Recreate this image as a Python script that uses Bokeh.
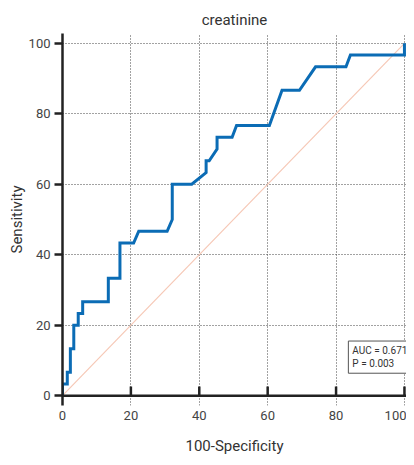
from bokeh.plotting import figure
from bokeh.models import Range1d, Span, Label, FixedTicker
from bokeh.embed import file_html
from bokeh.resources import INLINE

# ROC curve points (100-Specificity, Sensitivity)
fpr = [0, 0, 1.4, 1.4, 2.3, 2.3, 3.3, 3.3, 4.6, 4.6, 5.9, 5.9, 13.4, 13.4, 16.8, 16.8,
       20.8, 22.3, 30.6, 32.1, 32.1, 37.8, 42.0, 42.0, 42.9, 45.2, 45.2, 49.6, 50.9,
       60.5, 64.2, 69.3, 74.0, 82.9, 84.2, 100, 100]
tpr = [0, 3.33, 3.33, 6.67, 6.67, 13.33, 13.33, 20, 20, 23.33, 23.33, 26.67, 26.67, 33.33, 33.33, 43.33,
       43.33, 46.67, 46.67, 50, 60, 60, 63.33, 66.67, 66.67, 70, 73.33, 73.33, 76.67,
       76.67, 86.67, 86.67, 93.33, 93.33, 96.67, 96.67, 100]
diag_x = [0, 100]
diag_y = [0, 100]
x_ticks = [0, 20, 40, 60, 80, 100]
y_ticks = [0, 20, 40, 60, 80, 100]
auc_text = "AUC = 0.671\nP = 0.003"
x_title = "100-Specificity"

FONT = "Roboto"
p = figure(width=406, height=457, output_backend="svg", toolbar_location=None,
           x_range=Range1d(0, 100.6), y_range=Range1d(-2.8, 102.8),
           min_border_left=62, min_border_right=0, min_border_top=33, min_border_bottom=49,
           title="creatinine")
p.outline_line_color = None
p.background_fill_color = "white"
p.border_fill_color = "white"
p.title.align = "center"
p.title.text_font = FONT
p.title.text_font_size = "15px"
p.title.text_font_style = "normal"
p.title.text_color = "#333333"

# grid
for g in (p.xgrid, p.ygrid):
    g.grid_line_color = "#444444"
    g.grid_line_dash = "1 2"
    g.grid_line_width = 1
p.xgrid.ticker = FixedTicker(ticks=x_ticks)
p.ygrid.ticker = FixedTicker(ticks=y_ticks)

# y axis
ya = p.yaxis[0]
ya.ticker = FixedTicker(ticks=y_ticks)
ya.axis_line_color = "#222222"
ya.axis_line_width = 2.5
ya.major_tick_line_color = "#222222"
ya.major_tick_line_width = 2.5
ya.major_tick_out = 8
ya.major_tick_in = 0
ya.minor_tick_line_color = None
ya.major_label_standoff = 4
ya.major_label_text_font = FONT
ya.major_label_text_font_size = "13px"
ya.major_label_text_color = "#444444"
ya.axis_label = "Sensitivity"
ya.axis_label_text_font = FONT
ya.axis_label_text_font_size = "15px"
ya.axis_label_text_font_style = "normal"
ya.axis_label_text_color = "#333333"
ya.axis_label_standoff = 0

# x axis (labels only; line drawn at y=0)
xa = p.xaxis[0]
xa.ticker = FixedTicker(ticks=x_ticks)
xa.axis_line_color = None
xa.major_tick_line_color = None
xa.minor_tick_line_color = None
xa.major_tick_out = 0
xa.major_tick_in = 0
xa.major_label_standoff = 5
xa.major_label_text_font = FONT
xa.major_label_text_font_size = "13px"
xa.major_label_text_color = "#444444"
xa.axis_label = x_title
xa.axis_label_text_font = FONT
xa.axis_label_text_font_size = "15px"
xa.axis_label_text_font_style = "normal"
xa.axis_label_text_color = "#333333"
xa.axis_label_standoff = 14

# reference diagonal
p.line(diag_x, diag_y, line_color="#f6c8b6", line_width=1.2)
# ROC curve
p.line(fpr, tpr, line_color="#0b6cb5", line_width=3, line_join="miter")

# x axis line at 0 and inward ticks
p.add_layout(Span(location=0, dimension="width", line_color="#222222", line_width=2.5, level="overlay"))
p.segment(x0=x_ticks[1:], y0=[0] * 5, x1=x_ticks[1:], y1=[2.6] * 5,
          line_color="#222222", line_width=2.5, level="overlay")

lab = Label(x=83.6, y=15.5, text=auc_text, anchor="top_left",
            text_font=FONT, text_font_size="10px", text_color="#333333",
            border_line_color="#555555", border_line_width=1,
            background_fill_color="white", padding=4)
p.add_layout(lab)

open("out.html", "w").write(file_html(p, INLINE))
